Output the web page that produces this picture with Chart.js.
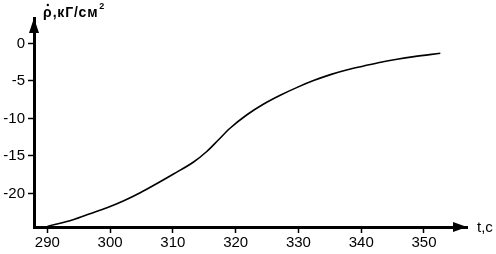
<!DOCTYPE html>
<html><head><meta charset="utf-8">
<script src="https://cdn.jsdelivr.net/npm/chart.js@4"></script>
<style>html,body{margin:0;padding:0;background:#fff}#w{width:496px;height:254px;position:relative}</style>
</head><body><div id="w"><canvas id="c"></canvas></div>
<script>
const timeValues = [290.0, 294.1, 296.8, 299.5, 302.1, 304.8, 307.4, 310.1, 313.3, 315.4, 317.2, 319.1, 321.8, 324.4, 327.1, 329.8, 332.4, 335.1, 337.8, 340.4, 343.1, 345.7, 348.4, 352.6];
const pressureValues = [-24.4, -23.5, -22.7, -21.9, -21.0, -19.9, -18.7, -17.4, -15.8, -14.4, -12.9, -11.3, -9.5, -8.1, -6.9, -5.85, -4.95, -4.15, -3.5, -3.0, -2.5, -2.1, -1.75, -1.3];
const xTickLabels = [290, 300, 310, 320, 330, 340, 350];
const yTickLabels = [0, -5, -10, -15, -20];
const yAxisSymbol = 'ρ';
const yAxisUnit = ',кГ/см';
const yAxisUnitSup = '2';
const xAxisTitle = 't,c';

const FONT = 'Liberation Sans, Arial, sans-serif';
const arrows = {
  id: 'arrows',
  afterDraw(chart) {
    const ctx = chart.ctx, a = chart.chartArea;
    ctx.save();
    ctx.fillStyle = '#000';
    // y arrow
    ctx.beginPath();
    ctx.moveTo(a.left, a.top);
    ctx.lineTo(a.left - 5, a.top + 15);
    ctx.lineTo(a.left + 5, a.top + 15);
    ctx.closePath(); ctx.fill();
    // x arrow
    ctx.beginPath();
    ctx.moveTo(a.right, a.bottom);
    ctx.lineTo(a.right - 14, a.bottom - 5);
    ctx.lineTo(a.right - 14, a.bottom + 5);
    ctx.closePath(); ctx.fill();
    // y title
    ctx.textBaseline = 'alphabetic';
    ctx.textAlign = 'left';
    ctx.font = 'bold 14px ' + FONT;
    let x = a.left + 9;
    const by = a.top - 1;
    const rw = ctx.measureText(yAxisSymbol).width;
    ctx.fillText(yAxisSymbol, x, by);
    ctx.beginPath();
    ctx.arc(x + rw / 2 + 0.5, by - 12, 1.2, 0, Math.PI * 2);
    ctx.fill();
    x += rw + 1;
    ctx.letterSpacing = '0.8px';
    ctx.fillText(yAxisUnit, x, by);
    x += ctx.measureText(yAxisUnit).width;
    ctx.letterSpacing = '0px';
    ctx.font = 'bold 9px ' + FONT;
    ctx.fillText(yAxisUnitSup, x + 1, by - 8);
    // x title
    ctx.font = '15px ' + FONT;
    ctx.textBaseline = 'middle';
    ctx.fillText(xAxisTitle, a.right + 10, a.bottom + 1);
    ctx.restore();
  }
};

new Chart(document.getElementById('c'), {
  type: 'line',
  data: {
    datasets: [{
      data: timeValues.map((t, i) => ({x: t, y: pressureValues[i]})),
      borderColor: '#000',
      borderWidth: 1.6,
      pointRadius: 0,
      cubicInterpolationMode: 'monotone',
      fill: false
    }]
  },
  options: {
    responsive: true,
    maintainAspectRatio: false,
    animation: false,
    devicePixelRatio: 1,
    layout: {padding: {top: 18, right: 29, left: 0, bottom: 0}},
    plugins: {legend: {display: false}, tooltip: {enabled: false}},
    scales: {
      x: {
        type: 'linear',
        min: 287.88, max: 356.85,
        afterBuildTicks: s => { s.ticks = xTickLabels.map(v => ({value: v})); },
        afterFit: s => { s.height = 27; },
        border: {display: true, color: '#000', width: 3},
        grid: {drawOnChartArea: false, drawTicks: true, tickLength: 6, tickColor: '#000', tickWidth: 1.5},
        ticks: {color: '#000', font: {family: FONT, size: 15}, padding: 1, maxRotation: 0, autoSkip: false}
      },
      y: {
        type: 'linear',
        min: -24.47, max: 3.4,
        afterBuildTicks: s => { s.ticks = yTickLabels.map(v => ({value: v})); },
        afterFit: s => { s.width = 34; },
        border: {display: true, color: '#000', width: 3},
        grid: {drawOnChartArea: false, drawTicks: true, tickLength: 6, tickColor: '#000', tickWidth: 1.5},
        ticks: {color: '#000', font: {family: FONT, size: 15}, padding: 3, autoSkip: false}
      }
    }
  },
  plugins: [arrows]
});
</script></body></html>
